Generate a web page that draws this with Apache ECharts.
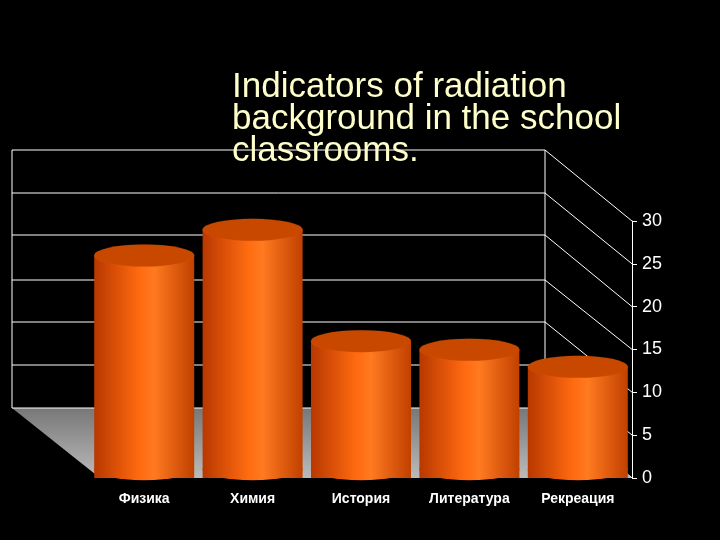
<!DOCTYPE html>
<html><head><meta charset="utf-8">
<script src="https://cdn.jsdelivr.net/npm/echarts@6/dist/echarts.min.js"></script>
<style>html,body{margin:0;background:#000}#c{width:720px;height:540px}</style>
</head><body><div id="c"></div>
<script>
const categories = ['Физика','Химия','История','Литература','Рекреация'];
const values = [26, 29, 16, 15, 13];
const yTicks = [0,5,10,15,20,25,30];

const chart = echarts.init(document.getElementById('c'));
const mk = () => new echarts.graphic.LinearGradient(0,0,1,0,[
  {offset:0,color:'#b83800'},{offset:0.45,color:'#ff6a10'},{offset:0.6,color:'#ff7a20'},{offset:1,color:'#c04000'}]);
const wall = [];
[150,193,235,280,322,365,408].forEach((y,i)=>{
  wall.push({type:'line',shape:{x1:12,y1:y,x2:545,y2:y},style:{stroke:'#fff',lineWidth:1},z:-1});
  wall.push({type:'line',shape:{x1:545,y1:y,x2:632,y2:221+i*42.8},style:{stroke:'#fff',lineWidth:1},z:-1});
});
wall.push({type:'line',shape:{x1:12,y1:150,x2:12,y2:408},style:{stroke:'#fff'},z:-1});
wall.push({type:'line',shape:{x1:545,y1:150,x2:545,y2:408},style:{stroke:'#fff'},z:-1});
wall.push({type:'polygon',shape:{points:[[12,408],[545,408],[632,478],[100,478]]},
  style:{fill:new echarts.graphic.LinearGradient(0,0,0,1,[{offset:0,color:'#777'},{offset:1,color:'#bbb'}])},z:-2});
chart.setOption({
  backgroundColor:'#000',
  graphic: wall.concat([{type:'text',left:232,top:70,z:10,style:{text:'Indicators of radiation\nbackground in the school\nclassrooms.',
    fill:'#ffffcc',font:'35px Liberation Sans, Arial',lineHeight:32}}]),
  grid:{left:90,right:88,top:221,bottom:62},
  xAxis:{type:'category',data:categories,axisLine:{show:false},axisTick:{show:false},
    axisLabel:{color:'#fff',fontSize:14,fontWeight:'bold',fontFamily:'Liberation Sans',margin:14}},
  yAxis:{type:'value',position:'right',min:0,max:30,interval:5,
    axisLine:{show:true,lineStyle:{color:'#fff'}},axisTick:{show:true,inside:false,lineStyle:{color:'#fff'}},
    splitLine:{show:false},axisLabel:{color:'#fff',fontSize:18,fontFamily:'Liberation Sans',margin:10,
      formatter:v=>yTicks.includes(v)?String(v):''}},
  series:[
    {type:'bar',data:values,barWidth:100,itemStyle:{color:mk()},z:2},
    {type:'pictorialBar',data:values,symbol:'circle',symbolSize:[100,22],symbolPosition:'start',symbolOffset:[0,'10%'],clip:false,
      itemStyle:{color:mk()},z:1},
    {type:'pictorialBar',data:values,symbol:'circle',symbolSize:[100,22],symbolPosition:'end',symbolOffset:[0,'-50%'],clip:false,
      itemStyle:{color:'#c84800',borderColor:'#e06010',borderWidth:1},z:3}
  ]
});
</script></body></html>
